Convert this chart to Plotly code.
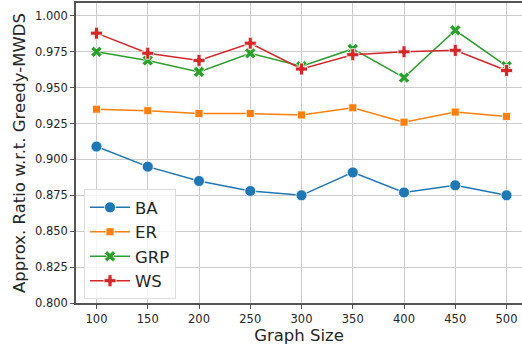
import plotly.graph_objects as go

# Graph sizes on the x axis
graph_sizes = [100, 150, 200, 250, 300, 350, 400, 450, 500]

# Approximation ratio relative to Greedy-MWDS for each graph family
ba = [0.909, 0.895, 0.885, 0.878, 0.875, 0.891, 0.877, 0.882, 0.875]
er = [0.935, 0.934, 0.932, 0.932, 0.931, 0.936, 0.926, 0.933, 0.930]
grp = [0.975, 0.969, 0.961, 0.974, 0.965, 0.977, 0.957, 0.990, 0.965]
ws = [0.988, 0.974, 0.969, 0.981, 0.963, 0.973, 0.975, 0.976, 0.962]

y_ticks = [0.800, 0.825, 0.850, 0.875, 0.900, 0.925, 0.950, 0.975, 1.000]

series = [
    ("BA", ba, "#1f77b4", "circle", 11),
    ("ER", er, "#ff7f0e", "square", 8),
    ("GRP", grp, "#2ca02c", "x", 10),
    ("WS", ws, "#d62728", "cross", 10),
]

fig = go.Figure()
for name, vals, color, symbol, size in series:
    fig.add_trace(go.Scatter(
        x=graph_sizes, y=vals, name=name, mode="lines+markers",
        line=dict(color=color, width=1.5),
        marker=dict(symbol=symbol, size=size, color=color,
                    line=dict(color="white", width=0.8)),
    ))

font_family = "DejaVu Sans"
fig.update_layout(
    width=522, height=347,
    margin=dict(l=76, r=0, t=3, b=44),
    paper_bgcolor="white", plot_bgcolor="white",
    font=dict(family=font_family, color="#262626", size=11.5),
    showlegend=True,
    legend=dict(
        x=0.018, y=0.013, xanchor="left", yanchor="bottom",
        bgcolor="rgba(255,255,255,0.8)", bordercolor="#dddddd", borderwidth=1,
        font=dict(family=font_family, size=16.5, color="#262626"),
        itemwidth=40,
    ),
    xaxis=dict(
        range=[80, 515.1],
        tickvals=graph_sizes, ticktext=[str(v) for v in graph_sizes],
        showgrid=True, gridcolor="#cccccc", gridwidth=1,
        showline=True, linecolor="#555555", linewidth=1.5, mirror=True,
        ticks="outside", ticklen=4, tickcolor="#555555",
        tickfont=dict(size=11.5),
        title=dict(text="Graph Size", font=dict(size=16.5), standoff=5),
        zeroline=False,
    ),
    yaxis=dict(
        range=[0.8, 1.009],
        tickvals=y_ticks, ticktext=[f"{v:.3f}" for v in y_ticks],
        showgrid=True, gridcolor="#cccccc", gridwidth=1,
        showline=True, linecolor="#555555", linewidth=1.5,
        ticks="outside", ticklen=4, tickcolor="#555555",
        tickfont=dict(size=11.5),
        title=dict(text="Approx. Ratio w.r.t. Greedy-MWDS", font=dict(size=16.5), standoff=5),
        zeroline=False,
    ),
)

fig.write_html("out.html")
